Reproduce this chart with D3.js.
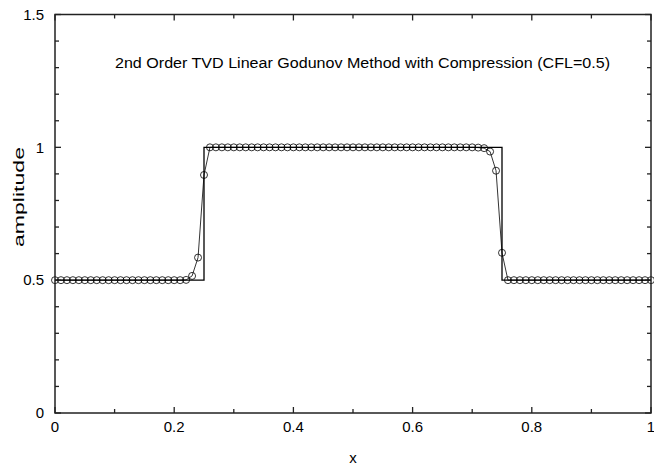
<!DOCTYPE html>
<html>
<head>
<meta charset="utf-8">
<script src="https://cdn.jsdelivr.net/npm/d3@7"></script>
<style>
  body { margin: 0; background: #fff; }
  text { font-family: "Liberation Sans", Arial, sans-serif; fill: #000; }
</style>
</head>
<body>
<div id="chart"></div>
<script>
// numerical solution, sampled at x = 0, 0.01, ... 1.0
var xStep = 0.01;
var amplitude = [
  0.5, 0.5, 0.5, 0.5, 0.5, 0.5, 0.5, 0.5, 0.5, 0.5,
  0.5, 0.5, 0.5, 0.5, 0.5, 0.5, 0.5, 0.5, 0.5, 0.5,
  0.5, 0.5, 0.501, 0.516, 0.585, 0.896, 1, 1, 1, 1,
  1, 1, 1, 1, 1, 1, 1, 1, 1, 1,
  1, 1, 1, 1, 1, 1, 1, 1, 1, 1,
  1, 1, 1, 1, 1, 1, 1, 1, 1, 1,
  1, 1, 1, 1, 1, 1, 1, 1, 1, 1,
  1, 0.999, 0.997, 0.984, 0.912, 0.603, 0.5, 0.5, 0.5, 0.5,
  0.5, 0.5, 0.5, 0.5, 0.5, 0.5, 0.5, 0.5, 0.5, 0.5,
  0.5, 0.5, 0.5, 0.5, 0.5, 0.5, 0.5, 0.5, 0.5, 0.5,
  0.5
];

// exact square wave
var exactX = [0, 0.25, 0.25, 0.75, 0.75, 1];
var exactY = [0.5, 0.5, 1, 1, 0.5, 0.5];

var xTicks = [0, 0.2, 0.4, 0.6, 0.8, 1];
var yTicks = [0, 0.5, 1, 1.5];
var xMinor = [0.1, 0.3, 0.5, 0.7, 0.9];
var yMinor = [0.1, 0.2, 0.3, 0.4, 0.6, 0.7, 0.8, 0.9, 1.1, 1.2, 1.3, 1.4];

var title = "2nd Order TVD Linear Godunov Method with Compression (CFL=0.5)";

var margin = {top: 14.5, right: 3, bottom: 55, left: 55},
    width = 654 - margin.left - margin.right,
    height = 468 - margin.top - margin.bottom;

var svg = d3.select("#chart")
  .append("svg")
    .attr("width", 654)
    .attr("height", 468)
  .append("g")
    .attr("transform", "translate(" + margin.left + "," + margin.top + ")");

var x = d3.scaleLinear().domain([0, 1]).range([0, width]);
var y = d3.scaleLinear().domain([0, 1.5]).range([height, 0]);

var numData = amplitude.map(function(v, i) { return {x: i * xStep, y: v}; });
var exactData = exactX.map(function(v, i) { return {x: v, y: exactY[i]}; });

var line = d3.line()
  .x(function(d) { return x(d.x); })
  .y(function(d) { return y(d.y); });

// exact solution
svg.append("path")
  .datum(exactData)
  .attr("fill", "none")
  .attr("stroke", "#000")
  .attr("stroke-width", 1.3)
  .attr("d", line);

// numerical line + circles
svg.append("path")
  .datum(numData)
  .attr("fill", "none")
  .attr("stroke", "#000")
  .attr("stroke-width", 0.8)
  .attr("d", line);

svg.append("g")
  .selectAll("circle")
  .data(numData)
  .enter()
  .append("circle")
    .attr("cx", function(d) { return x(d.x); })
    .attr("cy", function(d) { return y(d.y); })
    .attr("r", 3.5)
    .attr("fill", "none")
    .attr("stroke", "#000")
    .attr("stroke-width", 0.8);

// frame
svg.append("rect")
  .attr("x", 0).attr("y", 0)
  .attr("width", width).attr("height", height)
  .attr("fill", "none")
  .attr("stroke", "#222")
  .attr("stroke-width", 1.5);

// ticks on all four sides, pointing inwards
var bigT = 6, smallT = 4;
function vTicks(vals, len) {
  vals.forEach(function(v) {
    svg.append("line").attr("x1", x(v)).attr("x2", x(v))
      .attr("y1", height).attr("y2", height - len)
      .attr("stroke", "#222").attr("stroke-width", 1.3);
    svg.append("line").attr("x1", x(v)).attr("x2", x(v))
      .attr("y1", 0).attr("y2", len)
      .attr("stroke", "#222").attr("stroke-width", 1.3);
  });
}
function hTicks(vals, len) {
  vals.forEach(function(v) {
    svg.append("line").attr("x1", 0).attr("x2", len)
      .attr("y1", y(v)).attr("y2", y(v))
      .attr("stroke", "#222").attr("stroke-width", 1.3);
    svg.append("line").attr("x1", width).attr("x2", width - len)
      .attr("y1", y(v)).attr("y2", y(v))
      .attr("stroke", "#222").attr("stroke-width", 1.3);
  });
}
vTicks(xTicks, bigT);
vTicks(xMinor, smallT);
hTicks(yTicks, bigT);
hTicks(yMinor, smallT);

// tick labels
svg.append("g").selectAll("text")
  .data(xTicks)
  .enter().append("text")
    .attr("x", function(d) { return x(d); })
    .attr("y", height + 19)
    .attr("text-anchor", "middle")
    .style("font-size", "15px")
    .text(function(d) { return d; });

svg.append("g").selectAll("text")
  .data(yTicks)
  .enter().append("text")
    .attr("x", -11)
    .attr("y", function(d) { return y(d); })
    .attr("dy", "0.35em")
    .attr("text-anchor", "end")
    .style("font-size", "15px")
    .text(function(d) { return d; });

// axis titles
svg.append("text")
  .attr("x", x(0.5))
  .attr("y", height + 50)
  .attr("text-anchor", "middle")
  .style("font-size", "15px")
  .text("x");

svg.append("text")
  .attr("text-anchor", "middle")
  .attr("transform", "translate(" + (-31) + "," + (197 - margin.top) + ")rotate(-90)")
  .attr("textLength", 100)
  .attr("lengthAdjust", "spacingAndGlyphs")
  .style("font-size", "14px")
  .text("amplitude");

svg.append("text")
  .attr("x", 115 - margin.left)
  .attr("y", 68 - margin.top)
  .attr("textLength", 495)
  .attr("lengthAdjust", "spacingAndGlyphs")
  .style("font-size", "14px")
  .text(title);
</script>
</body>
</html>
